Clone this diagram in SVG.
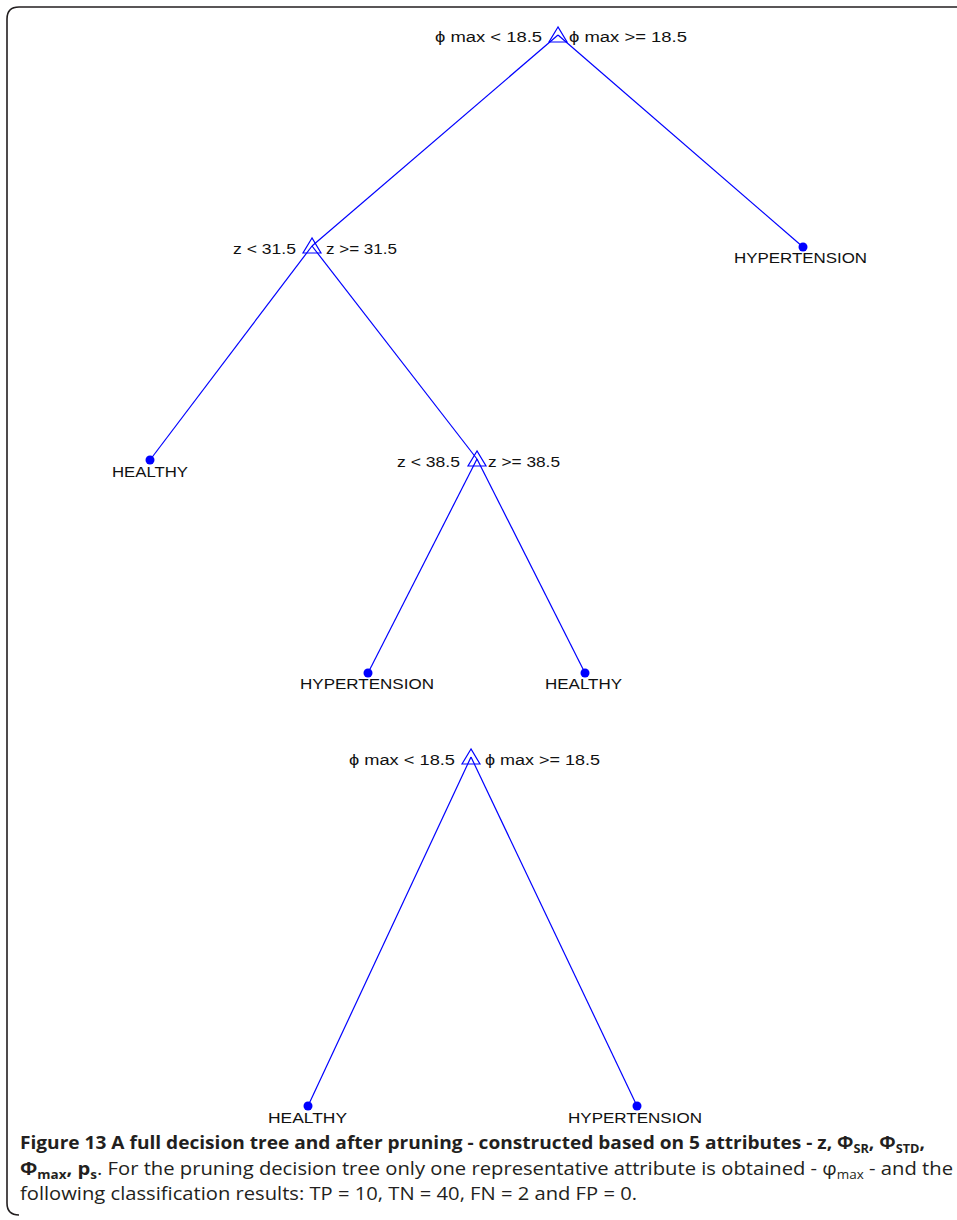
<svg xmlns="http://www.w3.org/2000/svg" width="957" height="1220" viewBox="0 0 957 1220">
<style>
.edge{stroke:#0000ff;stroke-width:1.2;fill:none}
.tri{stroke:#0000ff;stroke-width:1.2;fill:none}
.leaf{fill:#0000ff}
.lbl{font-family:"Liberation Sans",Arial,sans-serif;font-size:15.5px;fill:#111}
.cap{font-family:"Open Sans","Liberation Sans",sans-serif;font-size:18px;fill:#231f20}
.b{font-weight:700}
.sub{font-size:12px}
</style>
<rect width="957" height="1220" fill="#fff"/>
<path d="M957 7 H19 Q7 7 7 19 V1203 Q7 1215 19 1215" fill="none" stroke="#231f20" stroke-width="1.6"/>
<g id="connectors">
<line class="edge" x1="558" y1="35" x2="312" y2="246"/>
<line class="edge" x1="558" y1="35" x2="803" y2="247"/>
<line class="edge" x1="312" y1="246" x2="150" y2="460"/>
<line class="edge" x1="312" y1="246" x2="477" y2="459"/>
<line class="edge" x1="477" y1="459" x2="368" y2="673"/>
<line class="edge" x1="477" y1="459" x2="585" y2="673"/>
<line class="edge" x1="471" y1="757" x2="308" y2="1106"/>
<line class="edge" x1="471" y1="757" x2="637" y2="1106"/>
</g>
<g id="root">
<polygon class="tri" points="558,27 549,42 567,42"/>
<text class="lbl" x="542" y="42" text-anchor="end" textLength="107" lengthAdjust="spacingAndGlyphs">ϕ max &lt; 18.5</text>
<text class="lbl" x="569" y="42" textLength="118" lengthAdjust="spacingAndGlyphs">ϕ max &gt;= 18.5</text>
</g>
<g id="node-z315">
<polygon class="tri" points="312,238 303,253 321,253"/>
<text class="lbl" x="296" y="254" text-anchor="end" textLength="63" lengthAdjust="spacingAndGlyphs">z &lt; 31.5</text>
<text class="lbl" x="326" y="254" textLength="71" lengthAdjust="spacingAndGlyphs">z &gt;= 31.5</text>
</g>
<g id="node-z385">
<polygon class="tri" points="477,451 468,466 486,466"/>
<text class="lbl" x="460" y="467" text-anchor="end" textLength="63" lengthAdjust="spacingAndGlyphs">z &lt; 38.5</text>
<text class="lbl" x="488" y="467" textLength="72" lengthAdjust="spacingAndGlyphs">z &gt;= 38.5</text>
</g>
<g id="leaf-hyp1">
<circle class="leaf" cx="803" cy="247" r="4.5"/>
<text class="lbl" x="734" y="263" textLength="133" lengthAdjust="spacingAndGlyphs">HYPERTENSION</text>
</g>
<g id="leaf-healthy1">
<circle class="leaf" cx="150" cy="460" r="4.5"/>
<text class="lbl" x="112" y="477" textLength="76" lengthAdjust="spacingAndGlyphs">HEALTHY</text>
</g>
<g id="leaf-hyp2">
<circle class="leaf" cx="368" cy="673" r="4.5"/>
<text class="lbl" x="300" y="689" textLength="134" lengthAdjust="spacingAndGlyphs">HYPERTENSION</text>
</g>
<g id="leaf-healthy2">
<circle class="leaf" cx="585" cy="673" r="4.5"/>
<text class="lbl" x="545" y="689" textLength="77" lengthAdjust="spacingAndGlyphs">HEALTHY</text>
</g>
<g id="root2">
<polygon class="tri" points="471,749 462,764 480,764"/>
<text class="lbl" x="455" y="765" text-anchor="end" textLength="106" lengthAdjust="spacingAndGlyphs">ϕ max &lt; 18.5</text>
<text class="lbl" x="485" y="765" textLength="115" lengthAdjust="spacingAndGlyphs">ϕ max &gt;= 18.5</text>
</g>
<g id="leaf-healthy3">
<circle class="leaf" cx="308" cy="1106" r="4.5"/>
<text class="lbl" x="268" y="1123" textLength="79" lengthAdjust="spacingAndGlyphs">HEALTHY</text>
</g>
<g id="leaf-hyp3">
<circle class="leaf" cx="637" cy="1106" r="4.5"/>
<text class="lbl" x="568" y="1123" textLength="134" lengthAdjust="spacingAndGlyphs">HYPERTENSION</text>
</g>
<g id="caption">
<text class="cap b" x="20" y="1149" textLength="905" lengthAdjust="spacingAndGlyphs">Figure 13 A full decision tree and after pruning - constructed based on 5 attributes - z, Φ<tspan class="sub" dy="4">SR</tspan><tspan dy="-4">, Φ</tspan><tspan class="sub" dy="4">STD</tspan><tspan dy="-4">,</tspan></text>
<text class="cap" x="20" y="1175" textLength="933" lengthAdjust="spacingAndGlyphs"><tspan class="b">Φ</tspan><tspan class="b sub" dy="4">max</tspan><tspan class="b" dy="-4">, p</tspan><tspan class="b sub" dy="4">s</tspan><tspan dy="-4">. For the pruning decision tree only one representative attribute is obtained - φ</tspan><tspan class="sub" dy="4">max</tspan><tspan dy="-4"> - and the</tspan></text>
<text class="cap" x="20" y="1200" textLength="617" lengthAdjust="spacingAndGlyphs">following classification results: TP = 10, TN = 40, FN = 2 and FP = 0.</text>
</g>
</svg>
